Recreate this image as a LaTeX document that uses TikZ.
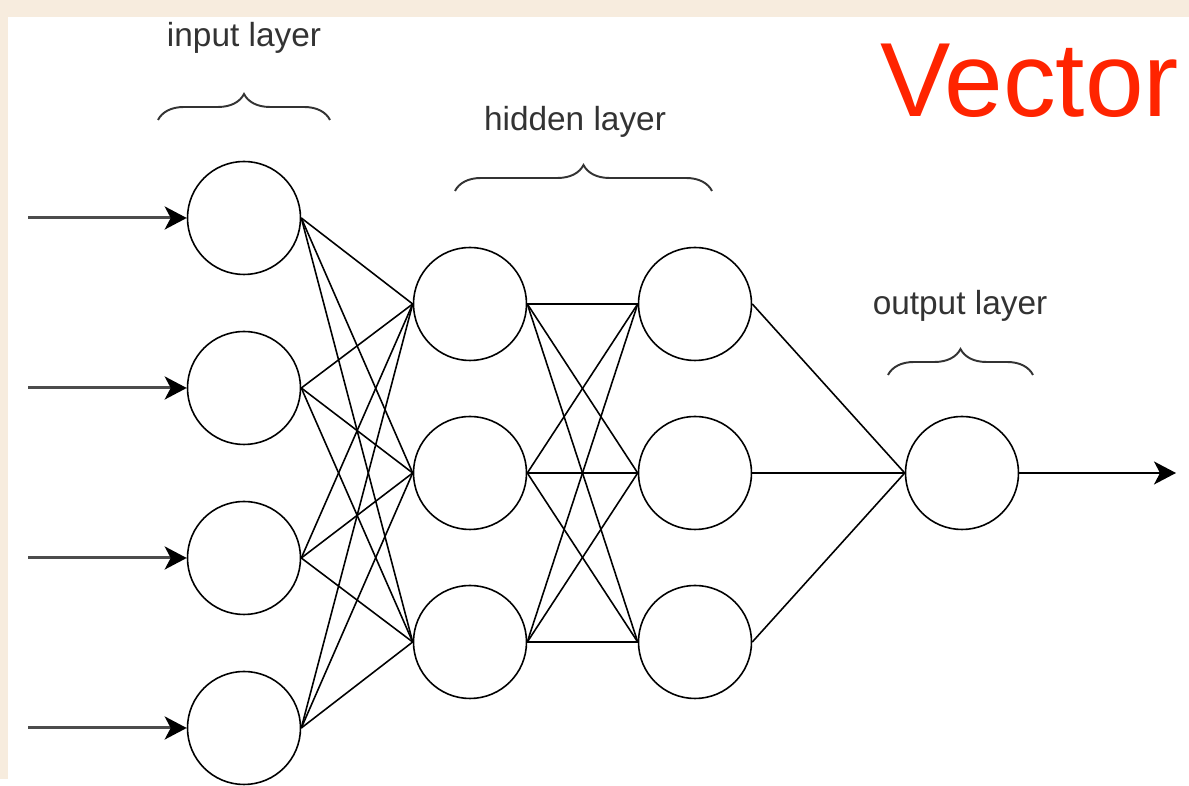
\documentclass[tikz,border=0pt]{standalone}
\usepackage{fontspec}
\setmainfont{Liberation Sans}
\usetikzlibrary{positioning,arrows.meta,decorations.pathreplacing}
\definecolor{paper}{RGB}{247,236,222}
\definecolor{vecred}{RGB}{255,36,0}
\definecolor{inkgray}{RGB}{51,51,51}

\begin{document}
\begin{tikzpicture}
    [every node/.style={draw, circle, line width=0.9pt, inner sep=0pt, minimum size=2.26cm},
     lbl/.style={draw=none, rectangle, minimum size=0pt, inner sep=0pt, text=inkgray, font=\fontsize{19}{22}\selectfont},
     layerbrace/.style={decorate, decoration={brace, amplitude=0.52cm}, line width=1.1pt, inkgray},
     inarrow/.style={-{Stealth[length=0.44cm, width=0.46cm, inset=0.12cm, color=black]}, line width=1.7pt, black!70},
     outarrow/.style={-{Stealth[length=0.44cm, width=0.46cm, inset=0.12cm]}, line width=1pt}]
  \fill[paper] (0,0) rectangle (23.78,15.58);
  \fill[white] (0.16,0) rectangle (23.78,15.24);

  \node (i1) at (4.88,11.22) {};
  \node (i2) at (4.88,7.82) {};
  \node (i3) at (4.88,4.42) {};
  \node (i4) at (4.88,1.02) {};

  \node (h1) at (9.40,9.50) {};
  \node (h2) at (9.40,6.12) {};
  \node (h3) at (9.40,2.74) {};

  \node (g1) at (13.90,9.50) {};
  \node (g2) at (13.90,6.12) {};
  \node (g3) at (13.90,2.74) {};

  \node (out) at (19.24,6.12) {};

  \foreach \n/\y in {1/11.22, 2/7.82, 3/4.42, 4/1.02}
    \coordinate (s\n) at (0.56,\y);
  \coordinate (e) at (23.52,6.12);

  \foreach \n in {1,...,4}
    \draw[inarrow] (s\n) -- (i\n.west);
  \draw[outarrow] (out.east) -- (e);

  \foreach \a in {1,...,4}
    \foreach \b in {1,2,3}
      \draw[line width=0.9pt] (i\a.east) -- (h\b.west);
  \foreach \a in {1,2,3}
    \foreach \b in {1,2,3}
      \draw[line width=0.9pt] (h\a.east) -- (g\b.west);
  \foreach \a in {1,2,3}
    \draw[line width=0.9pt] (g\a.east) -- (out.west);

  \draw[layerbrace] (3.16,13.18) -- (6.60,13.18);
  \draw[layerbrace] (9.10,11.76) -- (14.24,11.76);
  \draw[layerbrace] (17.76,8.08) -- (20.66,8.08);

  \node[lbl] (tin) at (4.88,14.82) {input layer};
  \node[lbl] (thid) at (11.50,13.14) {hidden layer};
  \node[lbl] (tout) at (19.20,9.46) {output layer};

  \node[lbl, anchor=base, text=vecred, font=\fontsize{60}{66}\selectfont] (vec) at (20.59,13.24) {Vector};
\end{tikzpicture}
\end{document}
